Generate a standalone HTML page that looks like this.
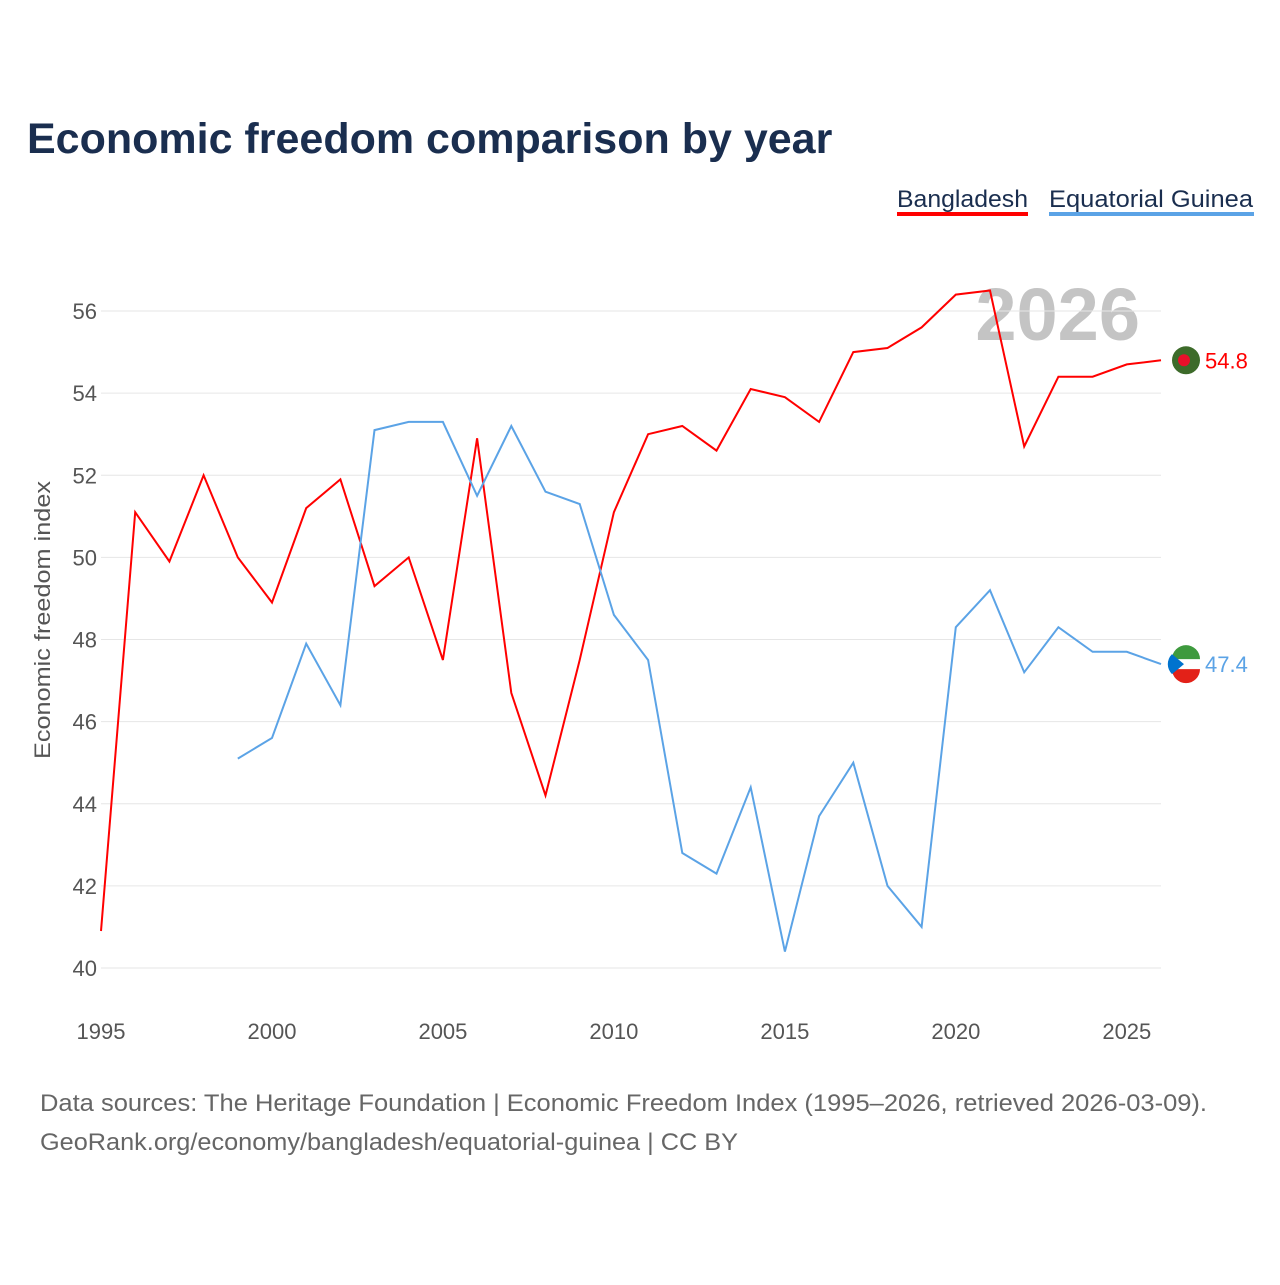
<!DOCTYPE html>
<html><head><meta charset="utf-8">
<style>
body{margin:0;background:#fff;font-family:"Liberation Sans",sans-serif;}
svg text{font-family:"Liberation Sans",sans-serif;}
</style></head>
<body>
<svg id="chart" width="1280" height="1280" viewBox="0 0 1280 1280">
<text x="27" y="153" font-size="43" font-weight="bold" fill="#1a2e4f">Economic freedom comparison by year</text>
<g>
<text x="897" y="207" font-size="24" fill="#1a2e4f" textLength="131" lengthAdjust="spacingAndGlyphs">Bangladesh</text>
<rect x="897" y="212" width="131" height="4" fill="#ff0000"/>
<text x="1049" y="207" font-size="24" fill="#1a2e4f" textLength="204" lengthAdjust="spacingAndGlyphs">Equatorial Guinea</text>
<rect x="1049" y="212" width="205" height="4" fill="#5ba3e6"/>
</g>
<text x="1140" y="340" font-size="74" font-weight="bold" fill="#c4c4c4" text-anchor="end">2026</text>
<g id="grid"></g>
<g id="series"></g>
<text transform="translate(50,620) rotate(-90)" font-size="22" fill="#555" text-anchor="middle" textLength="278" lengthAdjust="spacingAndGlyphs">Economic freedom index</text>
<text x="40" y="1111" font-size="24" fill="#666" textLength="1167" lengthAdjust="spacingAndGlyphs">Data sources: The Heritage Foundation | Economic Freedom Index (1995–2026, retrieved 2026-03-09).</text>
<text x="40" y="1150" font-size="24" fill="#666" textLength="698" lengthAdjust="spacingAndGlyphs">GeoRank.org/economy/bangladesh/equatorial-guinea | CC BY</text>
</svg>
<script>
const years=[1995,1996,1997,1998,1999,2000,2001,2002,2003,2004,2005,2006,2007,2008,2009,2010,2011,2012,2013,2014,2015,2016,2017,2018,2019,2020,2021,2022,2023,2024,2025,2026];
const bangladesh=[40.9,51.1,49.9,52.0,50.0,48.9,51.2,51.9,49.3,50.0,47.5,52.9,46.7,44.2,47.5,51.1,53.0,53.2,52.6,54.1,53.9,53.3,55.0,55.1,55.6,56.4,56.5,52.7,54.4,54.4,54.7,54.8];
const eqGuinea=[null,null,null,null,45.1,45.6,47.9,46.4,53.1,53.3,53.3,51.5,53.2,51.6,51.3,48.6,47.5,42.8,42.3,44.4,40.4,43.7,45.0,42.0,41.0,48.3,49.2,47.2,48.3,47.7,47.7,47.4];
const yTicks=[40,42,44,46,48,50,52,54,56];
const xTicks=[1995,2000,2005,2010,2015,2020,2025];
const NS="http://www.w3.org/2000/svg";
const X=y=>101+(y-1995)*(1161-101)/31;
const Y=v=>968-(v-40)*(968-311)/16;
function mk(t,a,p){const e=document.createElementNS(NS,t);for(const k in a)e.setAttribute(k,a[k]);p.appendChild(e);return e;}
const grid=document.getElementById('grid'),ser=document.getElementById('series');
yTicks.forEach(v=>{
 const l=mk('line',{x1:101,x2:1161,y1:Y(v),y2:Y(v),stroke:'#e6e6e6','stroke-width':1},grid);
 
 
 const t=mk('text',{x:97,y:Y(v)+8,'font-size':22,fill:'#555','text-anchor':'end'},grid);t.textContent=v;
 
 
});
xTicks.forEach(v=>{
 const t=mk('text',{x:X(v),y:1039,'font-size':22,fill:'#555','text-anchor':'middle'},grid);t.textContent=v;
 
 
});
function line(vals,color,name){
 let d='';vals.forEach((v,i)=>{if(v==null)return;d+=(d?'L':'M')+X(years[i]).toFixed(1)+','+Y(v).toFixed(1);});
 const p=mk('path',{d:d,fill:'none',stroke:color,'stroke-width':2},ser);
 
 
 const last=vals[vals.length-1];
 const c=mk('circle',{cx:1186,cy:Y(last),r:14,fill:color},ser);
 
 
 const t=mk('text',{x:1205,y:Y(last)+8,'font-size':22,fill:color},ser);t.textContent=last.toFixed(1);
 
 
 return c;
}
const bc=line(bangladesh,'#ff0000','bangladesh-line');bc.setAttribute('fill','#3d6b2a');
const bd=mk('circle',{cx:1184,cy:bc.getAttribute('cy'),r:6,fill:'#e8102a'},ser);


const ec=line(eqGuinea,'#5ba3e6','equatorial-guinea-line');
const cy=+ec.getAttribute('cy');
ec.setAttribute('fill','#ffffff');
const g1=mk('path',{d:`M1172,${cy-5} A14,14 0 0 1 1200,${cy-5} Z`,fill:'#3e9a3e'},ser);


const g2=mk('path',{d:`M1172,${cy+5} A14,14 0 0 0 1200,${cy+5} Z`,fill:'#e32118'},ser);


const g3=mk('path',{d:`M1172,${cy-10} L1184,${cy} L1172,${cy+10} A14,14 0 0 1 1172,${cy-10} Z`,fill:'#0073ce'},ser);


</script>
</body></html>
